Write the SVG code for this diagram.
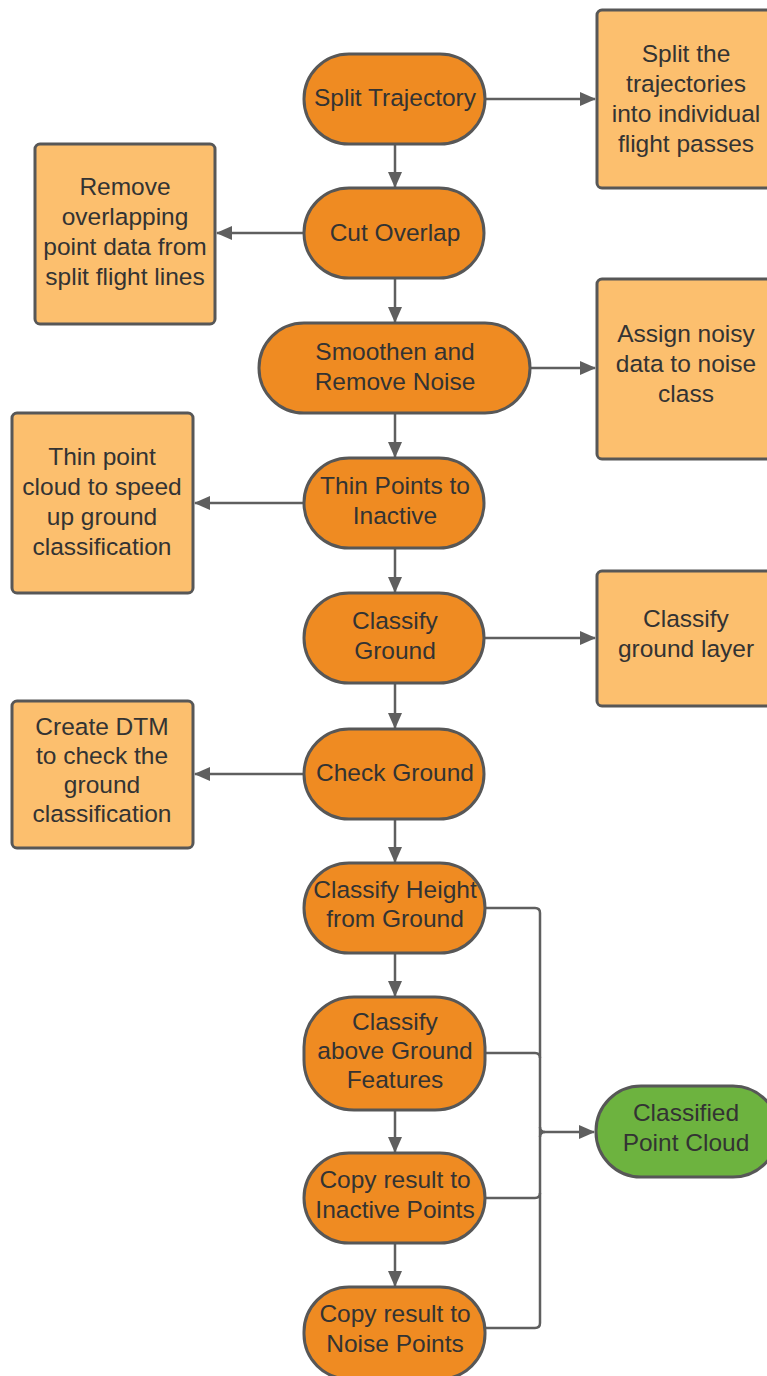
<svg xmlns="http://www.w3.org/2000/svg" width="767" height="1376" viewBox="0 0 767 1376">
<defs>
<style>
.step{fill:#EF8B22;stroke:#575757;stroke-width:3}
.note{fill:#FCBF6E;stroke:#575757;stroke-width:3}
.out{fill:#6DB33F;stroke:#575757;stroke-width:3}
text{font-family:"Liberation Sans",Arial,sans-serif;font-size:24.5px;fill:#333;text-anchor:middle}
.conn path{fill:none;stroke:#5f5f5f;stroke-width:2.5}
</style>
<marker id="ah" viewBox="0 0 16 14" refX="15" refY="7" markerWidth="16" markerHeight="14" markerUnits="userSpaceOnUse" orient="auto">
<path d="M0,0 L16,7 L0,14 Z" fill="#5f5f5f"/>
</marker>
</defs>
<rect width="767" height="1376" fill="#fff"/>

<g class="conn">
<path d="M395 144 V187" marker-end="url(#ah)"/>
<path d="M395 278 V322" marker-end="url(#ah)"/>
<path d="M395 413 V457" marker-end="url(#ah)"/>
<path d="M395 548 V592" marker-end="url(#ah)"/>
<path d="M395 683 V728" marker-end="url(#ah)"/>
<path d="M395 819 V862" marker-end="url(#ah)"/>
<path d="M395 953 V996" marker-end="url(#ah)"/>
<path d="M395 1110 V1152" marker-end="url(#ah)"/>
<path d="M395 1243 V1286" marker-end="url(#ah)"/>
<path d="M485 99 H595" marker-end="url(#ah)"/>
<path d="M304 233 H217" marker-end="url(#ah)"/>
<path d="M530 368 H595" marker-end="url(#ah)"/>
<path d="M304 503 H195" marker-end="url(#ah)"/>
<path d="M484 638 H595" marker-end="url(#ah)"/>
<path d="M304 774 H195" marker-end="url(#ah)"/>
<path d="M485 908 H535 Q540 908 540 913 V1323 Q540 1328 535 1328 H485"/>
<path d="M485 1053 H535 Q540 1053 540 1058"/>
<path d="M485 1198 H535 Q540 1198 540 1193"/>
<path d="M540 1127 Q540 1132 545 1132 H594" marker-end="url(#ah)"/>
<path d="M540 1137 Q540 1132 545 1132"/>
</g>

<g id="split-trajectory"><rect class="step" x="304" y="54" width="181" height="90" rx="45"/><text x="395" y="106">Split Trajectory</text></g>
<g id="note-split"><rect class="note" x="597" y="10" width="180" height="178" rx="5"/><text x="686" y="62">Split the</text><text x="686" y="92">trajectories</text><text x="686" y="122">into individual</text><text x="686" y="152">flight passes</text></g>

<g id="cut-overlap"><rect class="step" x="304" y="188" width="180" height="90" rx="45"/><text x="395" y="241">Cut Overlap</text></g>
<g id="note-overlap"><rect class="note" x="35" y="144" width="180" height="180" rx="5"/><text x="125" y="195">Remove</text><text x="125" y="225">overlapping</text><text x="125" y="255">point data from</text><text x="125" y="285">split flight lines</text></g>

<g id="smoothen"><rect class="step" x="259" y="323" width="271" height="90" rx="45"/><text x="395" y="360">Smoothen and</text><text x="395" y="390">Remove Noise</text></g>
<g id="note-noise"><rect class="note" x="597" y="279" width="180" height="180" rx="5"/><text x="686" y="342">Assign noisy</text><text x="686" y="372">data to noise</text><text x="686" y="402">class</text></g>

<g id="thin-points"><rect class="step" x="304" y="458" width="180" height="90" rx="45"/><text x="395" y="494">Thin Points to</text><text x="395" y="524">Inactive</text></g>
<g id="note-thin"><rect class="note" x="12" y="413" width="181" height="180" rx="5"/><text x="102" y="465">Thin point</text><text x="102" y="495">cloud to speed</text><text x="102" y="525">up ground</text><text x="102" y="555">classification</text></g>

<g id="classify-ground"><rect class="step" x="304" y="593" width="180" height="90" rx="45"/><text x="395" y="629">Classify</text><text x="395" y="659">Ground</text></g>
<g id="note-ground"><rect class="note" x="597" y="571" width="180" height="135" rx="5"/><text x="686" y="627">Classify</text><text x="686" y="657">ground layer</text></g>

<g id="check-ground"><rect class="step" x="304" y="729" width="180" height="90" rx="45"/><text x="395" y="781">Check Ground</text></g>
<g id="note-dtm"><rect class="note" x="12" y="701" width="181" height="147" rx="5"/><text x="102" y="735">Create DTM</text><text x="102" y="764">to check the</text><text x="102" y="793">ground</text><text x="102" y="822">classification</text></g>

<g id="classify-height"><rect class="step" x="304" y="863" width="181" height="90" rx="45"/><text x="395" y="898">Classify Height</text><text x="395" y="927">from Ground</text></g>

<g id="classify-features"><rect class="step" x="304" y="997" width="181" height="113" rx="50"/><text x="395" y="1030">Classify</text><text x="395" y="1059">above Ground</text><text x="395" y="1088">Features</text></g>

<g id="copy-inactive"><rect class="step" x="304" y="1153" width="181" height="90" rx="45"/><text x="395" y="1188">Copy result to</text><text x="395" y="1218">Inactive Points</text></g>

<g id="copy-noise"><rect class="step" x="304" y="1287" width="181" height="92" rx="45"/><text x="395" y="1322">Copy result to</text><text x="395" y="1352">Noise Points</text></g>

<g id="classified-cloud"><rect class="out" x="596" y="1086" width="182" height="91" rx="45"/><text x="686" y="1121">Classified</text><text x="686" y="1151">Point Cloud</text></g>
</svg>
